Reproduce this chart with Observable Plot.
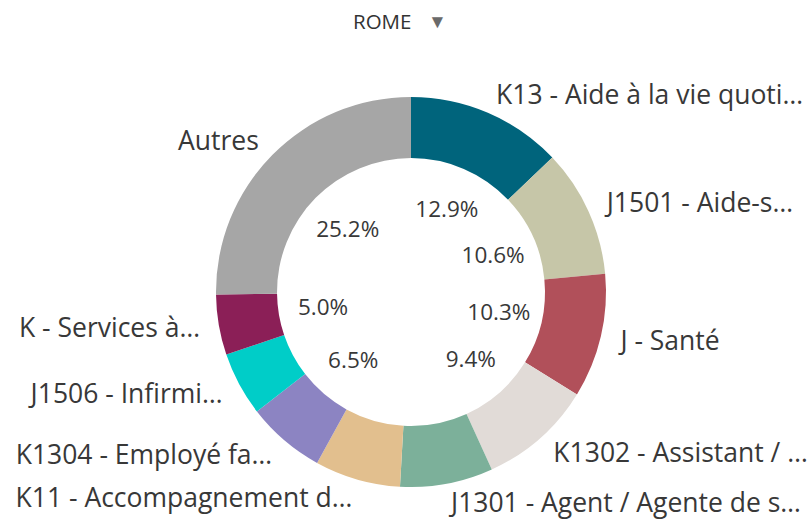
<!DOCTYPE html>
<html><head><meta charset="utf-8">
<script src="https://cdn.jsdelivr.net/npm/d3@7"></script>
<script src="https://cdn.jsdelivr.net/npm/@observablehq/plot@0.6"></script>
<style>
body{margin:0;background:#fff;font-family:"Open Sans", Lato, sans-serif;}
#title{height:44px;position:relative;width:812px;}
#title .t{position:absolute;left:353px;top:7px;font-size:20.5px;color:#333;}
#title .a{position:absolute;left:428px;top:8px;font-size:19px;color:#6a6a6a;}
</style></head><body>
<div id="title"><span class="t">ROME</span><span class="a">▼</span></div>
<div id="chart"></div>
<script>
const categories = [
  "K13 - Aide à la vie quoti…",
  "J1501 - Aide-s…",
  "J - Santé",
  "K1302 - Assistant / …",
  "J1301 - Agent / Agente de s…",
  "K11 - Accompagnement d…",
  "K1304 - Employé fa…",
  "J1506 - Infirmi…",
  "K - Services à…",
  "Autres"
];
const values = [12.9, 10.6, 10.3, 9.4, 7.7, 7.1, 6.5, 5.3, 5.0, 25.2];
const colors = ["#00647c", "#c6c6a8", "#b1505a", "#e1dbd7", "#7cb09a", "#e2bf8e", "#8c84c2", "#00cdc8", "#8b1f57", "#a6a6a6"];
const shownPercent = ["K13 - Aide à la vie quoti…", "J1501 - Aide-s…", "J - Santé", "K1302 - Assistant / …", "K1304 - Employé fa…", "K - Services à…", "Autres"];

const innerRatio = 0.687;
const pctRadius = 0.46;
const labelRadius = 1.10;

const color = Plot.scale({color: {type: "ordinal", domain: categories, range: colors}});
const arcs = d3.pie().sort(null)(values);
const data = arcs.map((a, i) => {
  const mid = (a.startAngle + a.endAngle) / 2;
  return {label: categories[i], value: values[i], start: a.startAngle, end: a.endAngle, mid,
    sx: Math.sin(mid), sy: Math.cos(mid)};
});

function donut(index, scales) {
  const cx = scales.x(0), cy = scales.y(0);
  const R = scales.x(1) - cx;
  const arc = d3.arc().innerRadius(R * innerRatio).outerRadius(R);
  const g = d3.create("svg:g").attr("transform", `translate(${cx},${cy})`);
  g.selectAll("path").data(data).join("path")
    .attr("d", d => arc({startAngle: d.start, endAngle: d.end}))
    .attr("fill", d => color.apply(d.label));
  return g.node();
}

const pctData = data.filter(d => shownPercent.includes(d.label));
const rightLabels = data.filter(d => d.sx >= 0);
const leftLabels = data.filter(d => d.sx < 0);

const chart = Plot.plot({
  width: 812,
  height: 475,
  margin: 0,
  x: {domain: [-1, 1], range: [411 - 195, 411 + 195], axis: null},
  y: {domain: [-1, 1], range: [248 + 195, 248 - 195], axis: null},
  style: {fontFamily: "'Open Sans', Lato, sans-serif", background: "#fff", overflow: "visible"},
  marks: [
    donut,
    Plot.text(pctData, {x: d => d.sx * pctRadius, y: d => d.sy * pctRadius, text: d => d.value.toFixed(1) + "%", fontSize: 22.5, fill: "#383838"}),
    Plot.text(rightLabels, {x: d => d.sx * labelRadius, y: d => d.sy * labelRadius, text: "label", textAnchor: "start", fontSize: 26.5, fill: "#383838"}),
    Plot.text(leftLabels, {x: d => d.sx * labelRadius, y: d => d.sy * labelRadius, text: "label", textAnchor: "end", fontSize: 26.5, fill: "#383838"})
  ]
});
document.getElementById("chart").appendChild(chart);
</script>
</body></html>
